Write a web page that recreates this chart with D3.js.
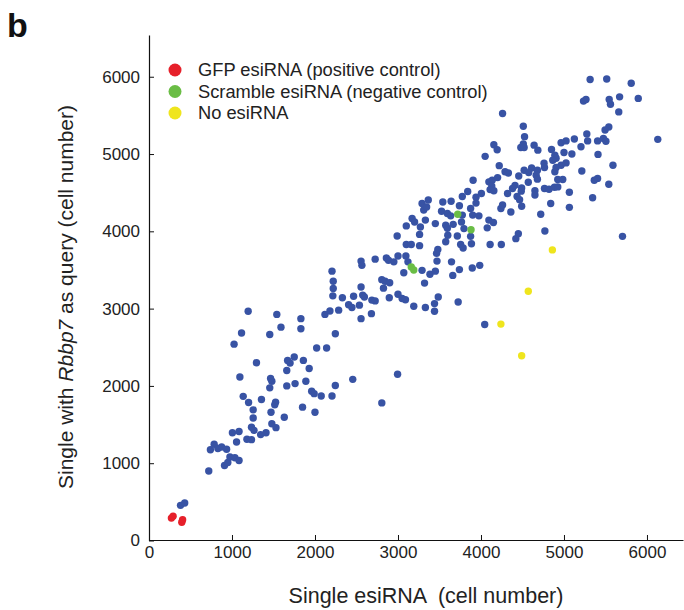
<!DOCTYPE html>
<html>
<head>
<meta charset="utf-8">
<script src="https://cdn.jsdelivr.net/npm/d3@7"></script>
<style>
  html, body { margin: 0; padding: 0; background: #fff; }
  svg { display: block; font-family: "Liberation Sans", Arial, Helvetica, sans-serif; }
</style>
</head>
<body>
<svg id="chart" width="684" height="610"></svg>
<script>
// Cell counts per esiRNA: single knockdown (x) vs. with Rbbp7 as query (y)
const screenedPoints = [
  [380,455],[430,485],[720,900],[910,970],[950,1010],[975,1080],[1035,1070],[1085,1035],[740,1175],[785,1245],
  [830,1190],[875,1210],[935,1180],[1055,1275],[1005,1395],[1085,1410],[1180,1310],[1235,1305],[1235,1465],[1265,1425],
  [1345,1370],[1410,1395],[1480,1510],[1530,1460],[1255,1585],[1630,1595],[1255,1690],[1470,1660],[1200,1785],[1135,1865],
  [1355,1825],[1525,1790],[1515,1755],[1850,1725],[2000,1660],[1960,1930],[1990,1900],[2075,1870],[2205,1870],[1455,1975],
  [1480,2060],[1660,2000],[1760,2030],[1890,2060],[1095,2115],[2205,3485],[2220,3355],[2220,3260],[2215,3165],[1195,2965],
  [1540,2925],[1830,2870],[2120,2925],[2180,2970],[1590,2760],[1830,2740],[1115,2685],[1455,2665],[2245,2675],[1025,2540],
  [2020,2490],[2140,2490],[1295,2300],[1670,2330],[1700,2295],[1750,2375],[1860,2330],[1930,2225],[1660,2200],[1465,2095],
  [2555,3615],[2565,3560],[2725,3640],[2860,3655],[2885,3625],[2950,3605],[3000,3680],[3095,3680],[3120,3605],[3470,3615],
  [3645,3605],[3070,3465],[3290,3495],[3385,3445],[3450,3485],[3660,3430],[3740,3505],[3895,3525],[3985,3560],[2805,3375],
  [2845,3355],[2900,3335],[3320,3330],[2555,3280],[2825,3265],[2330,3140],[2465,3160],[2575,3175],[2595,3150],[3000,3185],
  [3050,3130],[3090,3115],[2895,3140],[2685,3110],[2725,3100],[3485,3150],[2405,3050],[2445,3015],[2535,3045],[3190,3030],
  [3330,3015],[3440,3065],[3440,2965],[3725,3085],[2285,2980],[2680,2935],[2555,2870],[4045,2795],[2455,2085],[2995,2150],
  [2245,2005],[2805,1780],[4450,3970],[4420,3905],[4770,4005],[5705,3935],
  [3290,4360],[3365,4405],[3310,4275],[3345,4315],[3540,4380],[3640,4390],[3525,4260],[3595,4230],[3635,4200],[3170,4165],
  [3200,4120],[3330,4145],[3450,4100],[3575,4080],[3595,4040],[3665,4090],[3100,4070],[3270,4055],[3260,3960],[3600,3950],
  [3575,3865],[2990,3940],[3100,3830],[3160,3830],[3260,3815],[3480,3765],[3465,3715],
  [4260,5525],[4155,5120],[4195,5055],[4050,4970],[4220,4850],[3905,4660],[4095,4640],[4135,4660],[4200,4695],[4130,4585],
  [4110,4540],[4155,4525],[3840,4515],[3775,4450],[4005,4490],[3940,4440],[3875,4295],[3940,4365],[3740,4330],[4240,4295],
  [4260,4340],[3775,4210],[3900,4210],[3975,4200],[4095,4145],[4150,4115],[4075,4045],[3765,4120],[3795,4035],[3715,3940],
  [3875,3935],[3885,3840],[3755,3830],[3785,3785],[4110,3830],[4245,3830],
  [4510,5360],[4525,5225],[4510,5130],[4480,5085],[4520,5085],[4640,5115],[4685,5050],[4965,5145],[4850,5060],[5000,5020],
  [4890,4985],[4905,4945],[4865,4920],[4760,4880],[4765,4825],[4965,4855],[4905,4825],[4890,4770],[4610,4820],[4520,4790],
  [4575,4760],[4680,4790],[4665,4725],[4330,4755],[4290,4770],[4455,4715],[4680,4675],[4570,4635],[4925,4670],[4985,4670],
  [4410,4595],[4490,4560],[4380,4555],[4485,4520],[4765,4555],[4820,4545],[4885,4570],[4925,4575],[4650,4525],[4650,4470],
  [4320,4490],[4435,4450],[4465,4410],[4490,4325],[4840,4360],[4360,4250],[4720,4220],
  [5315,5965],[5515,5970],[5810,5915],[5235,5685],[5265,5705],[5545,5705],[5560,5645],[5670,5740],[5895,5720],[5660,5545],
  [6130,5190],[5540,5350],[5495,5310],[5275,5260],[5025,5170],[5125,5195],[5285,5170],[5405,5170],[5475,5200],[5505,5165],
  [5205,5095],[5095,5000],[5410,4995],[5025,4885],[5215,4780],[5590,4855],[5405,4685],[5365,4660],[5540,4610],[5065,4505],
  [5345,4435],[5065,4310]
];
const gfpPoints = [[270,290],[290,315],[395,237],[405,268]];
const scramblePoints = [[3720,4220],[3880,4020],[3160,3540],[3190,3500]];
const noEsiPoints = [[4860,3760],[4570,3225],[4240,2800],[4490,2390]];

const legendLabels = ["GFP esiRNA (positive control)", "Scramble esiRNA (negative control)", "No esiRNA"];
const xTicks = [0, 1000, 2000, 3000, 4000, 5000, 6000];
const yTicks = [0, 1000, 2000, 3000, 4000, 5000, 6000];

const colors = { screened: "#3853a4", gfp: "#e6202a", scramble: "#6abd45", none: "#efe51d" };

const svg = d3.select("#chart");

// Scales: 83 px per 1000 cells horizontally, 77.3 px per 1000 vertically
const x = d3.scaleLinear().domain([0, 6434]).range([149, 683]);
const y = d3.scaleLinear().domain([0, 6540]).range([540.5, 35]);

// Axes with inward ticks
const xAxis = d3.axisBottom(x).tickValues(xTicks).tickFormat(d3.format("d"))
  .tickSizeInner(-5).tickSizeOuter(0).tickPadding(6);
const yAxis = d3.axisLeft(y).tickValues(yTicks).tickFormat(d3.format("d"))
  .tickSizeInner(-5).tickSizeOuter(0).tickPadding(9);

const gx = svg.append("g").attr("transform", "translate(0,540)").call(xAxis);
const gy = svg.append("g").attr("transform", "translate(149,0)").call(yAxis);
[gx, gy].forEach(g => {
  g.selectAll("path.domain").attr("stroke", "#111").attr("stroke-width", 1.2);
  g.selectAll(".tick line").attr("stroke", "#111").attr("stroke-width", 1);
  g.selectAll(".tick text").attr("fill", "#222").style("font-size", "17px")
    .style("font-family", "'Liberation Sans', Arial, sans-serif");
});

// Points
const plot = svg.append("g");
function drawPoints(data, color) {
  plot.selectAll(null).data(data).enter().append("circle")
    .attr("cx", d => x(d[0])).attr("cy", d => y(d[1]))
    .attr("r", 3.7).attr("fill", color);
}
drawPoints(screenedPoints, colors.screened);
drawPoints(gfpPoints, colors.gfp);
drawPoints(scramblePoints, colors.scramble);
drawPoints(noEsiPoints, colors.none);

// Legend
const legendColors = [colors.gfp, colors.scramble, colors.none];
const legend = svg.append("g");
legendLabels.forEach((label, i) => {
  const cy = 70 + i * 21.5;
  legend.append("circle").attr("cx", 175).attr("cy", cy).attr("r", 6.5).attr("fill", legendColors[i]);
  legend.append("text").attr("x", 198).attr("y", cy + 6)
    .attr("fill", "#222").style("font-size", "18.3px").text(label);
});

// Axis titles
svg.append("text").attr("x", 426).attr("y", 603).attr("text-anchor", "middle")
  .attr("fill", "#222").style("font-size", "21.5px").style("white-space", "pre")
  .text("Single esiRNA  (cell number)");

const yTitle = svg.append("text")
  .attr("transform", "translate(73,297) rotate(-90)")
  .attr("text-anchor", "middle").attr("fill", "#222").style("font-size", "21px");
yTitle.append("tspan").text("Single with ");
yTitle.append("tspan").style("font-style", "italic").text("Rbbp7");
yTitle.append("tspan").text(" as query (cell number)");

// Panel letter
svg.append("text").attr("x", 7).attr("y", 37).attr("fill", "#111")
  .style("font-size", "34px").style("font-weight", "bold").text("b");
</script>
</body>
</html>
